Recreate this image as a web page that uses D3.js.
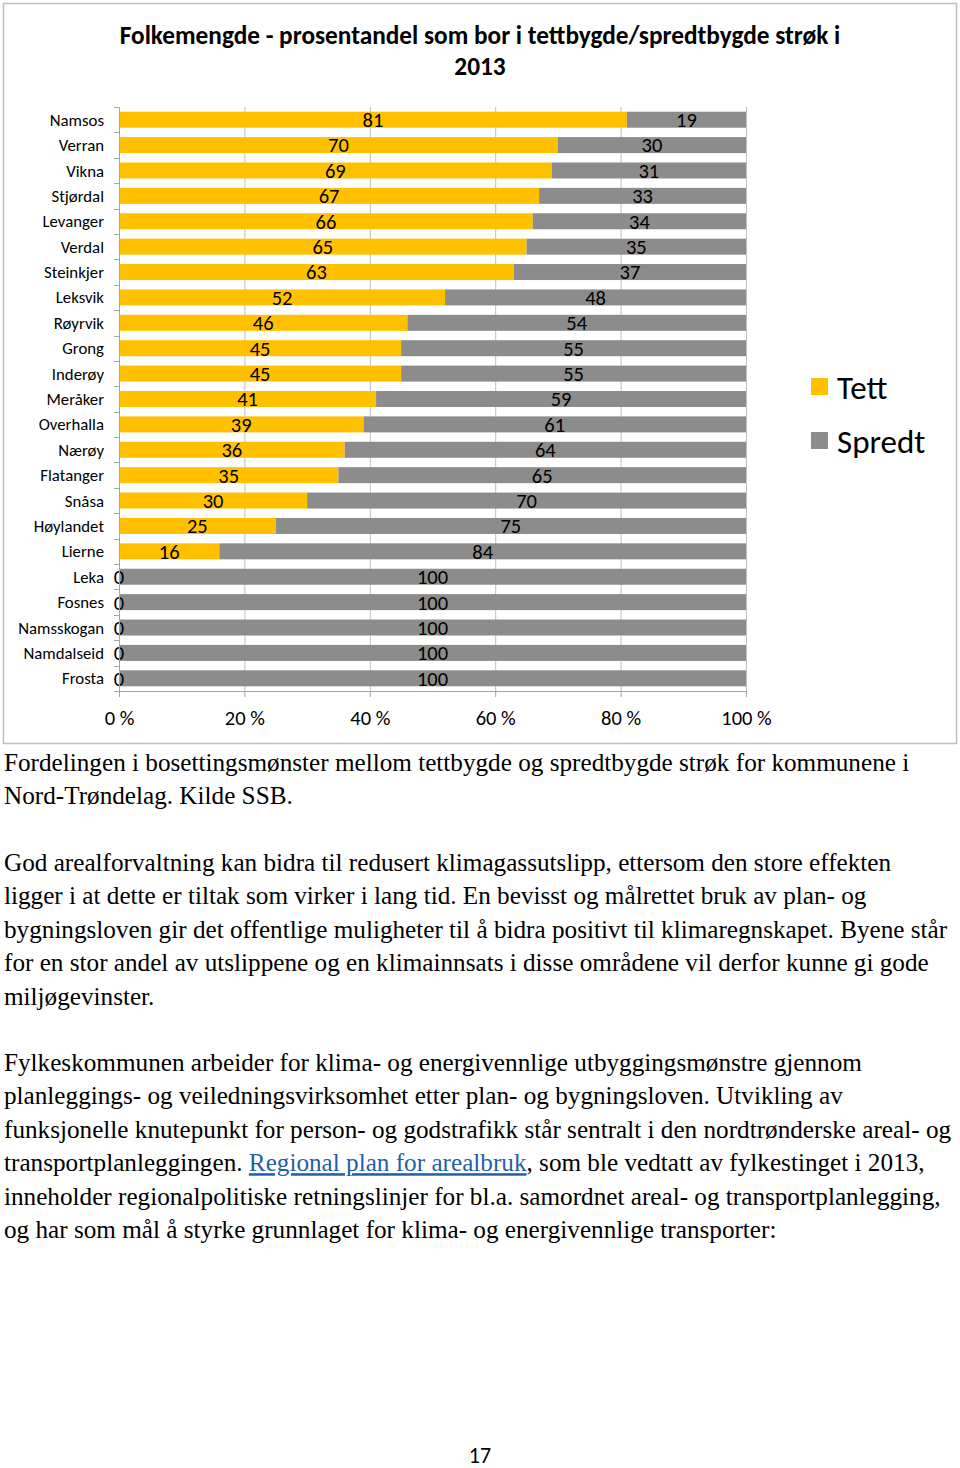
<!DOCTYPE html>
<html><head><meta charset="utf-8">
<script src="https://cdn.jsdelivr.net/npm/d3@7"></script>
<style>
body{margin:0;background:#fff;}
svg{display:block;}
</style></head>
<body>
<script>
const categories = ["Namsos","Verran","Vikna","Stjørdal","Levanger","Verdal","Steinkjer","Leksvik","Røyrvik","Grong","Inderøy","Meråker","Overhalla","Nærøy","Flatanger","Snåsa","Høylandet","Lierne","Leka","Fosnes","Namsskogan","Namdalseid","Frosta"];
const tett =   [81,70,69,67,66,65,63,52,46,45,45,41,39,36,35,30,25,16,0,0,0,0,0];
const spredt = [19,30,31,33,34,35,37,48,54,55,55,59,61,64,65,70,75,84,100,100,100,100,100];
const seriesNames = ["Tett","Spredt"];
const xTicks = [0,20,40,60,80,100];
const titleLines = ["Folkemengde - prosentandel som bor i tettbygde/spredtbygde strøk i","2013"];
const para1 = ["Fordelingen i bosettingsmønster mellom tettbygde og spredtbygde strøk for kommunene i","Nord-Trøndelag. Kilde SSB."];
const para2 = ["God arealforvaltning kan bidra til redusert klimagassutslipp, ettersom den store effekten","ligger i at dette er tiltak som virker i lang tid. En bevisst og målrettet bruk av plan- og","bygningsloven gir det offentlige muligheter til å bidra positivt til klimaregnskapet. Byene står","for en stor andel av utslippene og en klimainnsats i disse områdene vil derfor kunne gi gode","miljøgevinster."];
const para3 = [["Fylkeskommunen arbeider for klima- og energivennlige utbyggingsmønstre gjennom"],["planleggings- og veiledningsvirksomhet etter plan- og bygningsloven. Utvikling av"],["funksjonelle knutepunkt for person- og godstrafikk står sentralt i den nordtrønderske areal- og"],["transportplanleggingen. ","§Regional plan for arealbruk",", som ble vedtatt av fylkestinget i 2013,"],["inneholder regionalpolitiske retningslinjer for bl.a. samordnet areal- og transportplanlegging,"],["og har som mål å styrke grunnlaget for klima- og energivennlige transporter:"]];
const pageNumber = "17";

const colors = {Tett:"#FFC000", Spredt:"#8C8C8C"};
const sansFont = "Carlito, Calibri, Lato, 'Liberation Sans', sans-serif";
const serifFont = "'Liberation Serif','Times New Roman',serif";

const svg = d3.select("body").append("svg").attr("width",960).attr("height",1468);

// chart frame
svg.append("rect").attr("x",3.5).attr("y",3.5).attr("width",953).attr("height",740)
  .attr("fill","#fff").attr("stroke","#BFBFBF").attr("stroke-width",1.5);

// title
svg.append("g").selectAll("text").data(titleLines).join("text")
  .attr("x",480).attr("y",(d,i)=>44+i*31).attr("text-anchor","middle")
  .attr("font-family",sansFont).attr("font-weight","bold").attr("font-size",25.3).attr("fill","#000")
  .text(d=>d);

const x = d3.scaleLinear().domain([0,100]).range([119,746]);
const y = d3.scaleBand().domain(categories).range([107,691]).paddingInner(0.37).paddingOuter(0.185);

// gridlines
svg.append("g").selectAll("line").data(xTicks.filter(d=>d>0)).join("line")
  .attr("x1",d=>x(d)+0.5).attr("x2",d=>x(d)+0.5).attr("y1",107).attr("y2",691)
  .attr("stroke","#BFBFBF").attr("stroke-width",1);

// stacked data
const rows = categories.map((c,i)=>({cat:c, Tett:tett[i], Spredt:spredt[i]}));
const stack = d3.stack().keys(seriesNames)(rows);

const gBars = svg.append("g");
stack.forEach(layer=>{
  gBars.append("g").attr("fill",colors[layer.key]).selectAll("rect").data(layer).join("rect")
    .attr("x",d=>x(d[0])).attr("y",d=>y(d.data.cat)).attr("width",d=>x(d[1])-x(d[0])).attr("height",y.bandwidth());
});
// data labels
stack.forEach(layer=>{
  svg.append("g").selectAll("text").data(layer).join("text")
    .attr("x",d=>(x(d[0])+x(d[1]))/2).attr("y",d=>y(d.data.cat)+y.bandwidth()/2)
    .attr("dy","0.36em").attr("text-anchor","middle")
    .attr("font-family",sansFont).attr("font-size",20.5).attr("fill","#000")
    .text(d=>d[1]-d[0]);
});

// y axis
const yAxis = svg.append("g");
yAxis.append("line").attr("x1",119.5).attr("x2",119.5).attr("y1",107).attr("y2",691).attr("stroke","#A6A6A6");
const bounds = categories.map(c=>y(c)-y.step()*y.paddingInner()/2).concat([691]);
yAxis.selectAll(".tk").data(bounds).join("line")
  .attr("x1",114).attr("x2",119.5).attr("y1",d=>Math.round(d)+0.5).attr("y2",d=>Math.round(d)+0.5).attr("stroke","#A6A6A6");
yAxis.selectAll("text").data(categories).join("text")
  .attr("x",104).attr("y",d=>y(d)+y.bandwidth()/2).attr("dy","0.36em").attr("text-anchor","end")
  .attr("font-family",sansFont).attr("font-size",16.8).attr("fill","#000").text(d=>d);

// x axis
const xAxis = svg.append("g").attr("transform","translate(0,691)")
  .call(d3.axisBottom(x).tickValues(xTicks).tickSize(6).tickSizeOuter(0).tickFormat(d=>d+" %"));
xAxis.select(".domain").attr("stroke","#A6A6A6");
xAxis.selectAll(".tick line").attr("stroke","#A6A6A6");
xAxis.selectAll(".tick text").attr("font-family",sansFont).attr("font-size",20.5).attr("fill","#000").attr("y",19).attr("dy","0.71em");

// legend
const leg = svg.append("g").selectAll("g").data(seriesNames).join("g")
  .attr("transform",(d,i)=>`translate(811,${378+i*54})`);
leg.append("rect").attr("width",17).attr("height",17).attr("fill",d=>colors[d]);
leg.append("text").attr("x",26).attr("y",9).attr("dy","0.36em")
  .attr("font-family",sansFont).attr("font-size",33).attr("fill","#000").text(d=>d);

// body text
const lh = 33.4;
function para(lines, y0){
  svg.append("g").selectAll("text").data(lines).join("text")
    .attr("x",4).attr("y",(d,i)=>y0+i*lh)
    .attr("font-family",serifFont).attr("font-size",25.2).attr("fill","#000")
    .each(function(d){
      const t = d3.select(this);
      const parts = Array.isArray(d)?d:[d];
      parts.forEach(p=>{
        if(p.startsWith("§")){
          t.append("tspan").attr("fill","#1F5FAD").attr("text-decoration","underline").text(p.slice(1));
        } else t.append("tspan").text(p);
      });
    });
}
para(para1, 771);
para(para2, 871);
para(para3, 1071);

svg.append("text").attr("x",480).attr("y",1463).attr("text-anchor","middle")
  .attr("font-family",sansFont).attr("font-size",22).attr("fill","#000").text(pageNumber);
</script>
</body></html>
